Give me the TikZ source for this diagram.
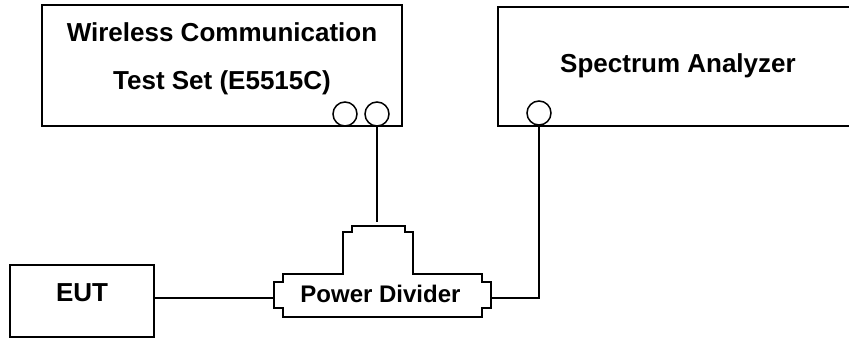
\documentclass[tikz,border=0pt]{standalone}
\usepackage{fontspec}
\setmainfont{Liberation Sans}
\begin{document}
\begin{tikzpicture}[x=1pt,y=-1pt,
  box/.style={draw,line width=1.8pt,inner sep=0pt},
  port/.style={draw,circle,line width=1.5pt,minimum size=24pt,inner sep=0pt},
  wire/.style={line width=1.8pt},
  lbl/.style={font=\bfseries\fontsize{26}{30}\selectfont,anchor=base,inner sep=0pt},
  pdlbl/.style={font=\bfseries\fontsize{24}{28}\selectfont,anchor=base,inner sep=0pt}]
\useasboundingbox (0,0) rectangle (849,340);
% boxes
\node[box,minimum width=360pt,minimum height=121pt] (wcts) at (222,65.5) {};
\node[box,minimum width=360pt,minimum height=119pt] (sa) at (678,66.5) {};
\node[box,line width=2.5pt,minimum width=144pt,minimum height=72pt] (eut) at (82,301) {};
% labels
\node[lbl] (t1) at (222,41) {Wireless Communication};
\node[lbl] (t2) at (222,89) {Test Set (E5515C)};
\node[lbl] (t3) at (678,72) {Spectrum Analyzer};
\node[lbl] (t4) at (82,301) {EUT};
% ports
\node[port] (p1) at (345,114) {};
\node[port] (p2) at (377,114) {};
\node[port] (p3) at (539,113) {};
% power divider
\draw[line width=2.5pt,line join=miter]
  (283,274) -- (343,274) -- (343,232) -- (352,232) -- (352,226) -- (405,226)
  -- (405,232) -- (413,232) -- (413,274) -- (482,274) -- (482,282) -- (491,282)
  -- (491,308) -- (482,308) -- (482,317) -- (283,317) -- (283,308) -- (274,308)
  -- (274,282) -- (283,282) -- cycle;
\node[pdlbl] (t5) at (380.5,302) {Power Divider};
\coordinate (pdL) at (274,298);
\coordinate (pdR) at (491,298);
\coordinate (pdT) at (378,222);
% wires
\draw[wire] (eut.east |- pdL) -- (pdL);
\draw[wire] (p2.south) -- (p2.south |- pdT);
\draw[wire] (pdR) -| (p3.south);
\end{tikzpicture}
\end{document}
